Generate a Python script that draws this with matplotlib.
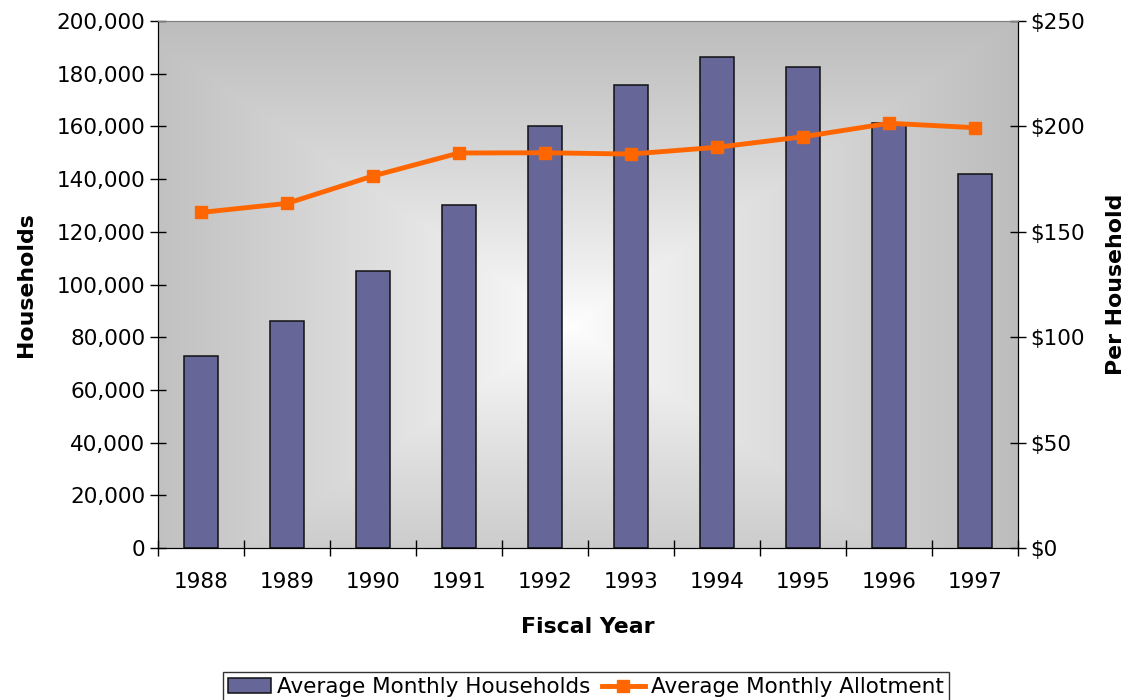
import matplotlib.pyplot as plt
import numpy as np
from matplotlib.ticker import FuncFormatter

plt.rcParams['font.family'] = ['DejaVu Sans']

years = ['1988', '1989', '1990', '1991', '1992', '1993', '1994', '1995', '1996', '1997']
households = [72900, 86100, 105000, 130200, 160200, 175700, 186500, 182500, 161200, 141900]
allotment = [159.2, 163.5, 176.5, 187.4, 187.5, 186.9, 190.1, 195.1, 201.5, 199.4]

fig = plt.figure(figsize=(11.29, 7), dpi=100)
ax = fig.add_axes([0.14, 0.217, 0.7617, 0.753])

# gradient background, light in the middle, gray at the edges
gx, gy = np.meshgrid(np.linspace(0, 1, 400), np.linspace(0, 1, 300))
d = np.maximum(np.abs(gx - 0.48) / 0.52, np.abs(gy - 0.42) / 0.58)
d = np.clip(d, 0, 1) ** 0.85
light = np.array([1.0, 1.0, 1.0])
dark = np.array([0.74, 0.74, 0.74])
img = light[None, None, :] * (1 - d[..., None]) + dark[None, None, :] * d[..., None]
ax.imshow(img, extent=[-0.5, 9.5, 0, 200000], origin='lower', aspect='auto', zorder=0)

x = np.arange(len(years))
ax.bar(x, households, width=0.4, color='#666699', edgecolor='#111111', linewidth=1.1,
       zorder=2, label='Average Monthly Households')
ax.set_xlim(-0.5, 9.5)
ax.set_ylim(0, 200000)
ax.set_yticks(np.arange(0, 200001, 20000))
ax.yaxis.set_major_formatter(FuncFormatter(lambda v, p: f'{int(v):,}'))
ax.set_xticks(x)
ax.set_xticklabels(years)
ax.set_xticks(np.arange(-0.5, 10, 1), minor=True)
ax.tick_params(axis='x', which='major', length=0, pad=17, labelsize=15.5)
ax.tick_params(axis='x', which='minor', direction='inout', length=12, width=1)
ax.tick_params(axis='y', direction='inout', length=12, width=1, labelsize=15.5, pad=3)
ax.set_ylabel('Households', fontsize=15.8, fontweight='bold', labelpad=15)
ax.set_xlabel('Fiscal Year', fontsize=15.8, fontweight='bold', labelpad=18)
ax.spines['top'].set_color('#808080')

ax2 = ax.twinx()
ax2.plot(x, allotment, color='#FF6600', linewidth=3.5, marker='s', markersize=8,
         zorder=3, label='Average Monthly Allotment')
ax2.set_ylim(0, 250)
ax2.set_yticks(np.arange(0, 251, 50))
ax2.yaxis.set_major_formatter(FuncFormatter(lambda v, p: f'${int(v)}'))
ax2.tick_params(axis='y', direction='inout', length=12, width=1, labelsize=15.5, pad=3)
ax2.set_ylabel('Per Household', fontsize=15.8, fontweight='bold', labelpad=15)
ax2.spines['top'].set_color('#808080')

h1, l1 = ax.get_legend_handles_labels()
h2, l2 = ax2.get_legend_handles_labels()
leg = fig.legend(h1 + h2, l1 + l2, loc='center', bbox_to_anchor=(0.519, 0.018), ncol=2,
                 fontsize=15.5, frameon=True, fancybox=False, edgecolor='black',
                 handlelength=2.0, handletextpad=0.3, columnspacing=0.5, borderpad=0.25)
leg.get_frame().set_linewidth(1)

fig.savefig('out.png', dpi=100)
